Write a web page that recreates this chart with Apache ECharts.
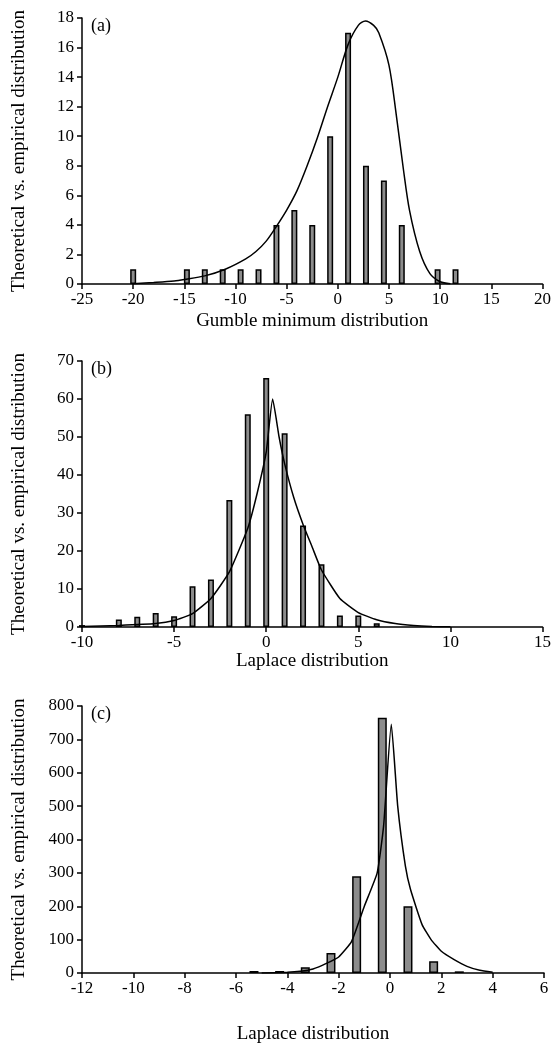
<!DOCTYPE html>
<html>
<head>
<meta charset="utf-8">
<script src="https://cdn.jsdelivr.net/npm/echarts@6/dist/echarts.min.js"></script>
<style>
  html, body { margin: 0; padding: 0; background: #fff; }
  #chart { width: 554px; height: 1045px; }
</style>
</head>
<body>
<div id="chart"></div>
<script>
// panel (a): Gumble minimum
const aBarX = [-20, -14.75, -13, -11.25, -9.5, -7.75, -6, -4.25, -2.5, -0.75, 1, 2.75, 4.5, 6.25, 9.75, 11.5];
const aBarY = [1, 1, 1, 1, 1, 1, 4, 5, 4, 10, 17, 8, 7, 4, 1, 1];
const aCurveX = [-20, -18, -16, -15, -13, -11, -9, -8, -7, -6, -5, -4, -3, -2, -1, 0, 1, 2, 2.7, 3.5, 4, 5, 5.7, 6.4, 7, 8, 9, 10, 11];
const aCurveY = [0.02, 0.1, 0.2, 0.3, 0.55, 1.0, 1.7, 2.2, 2.9, 3.9, 5.0, 6.3, 8.0, 9.9, 12.0, 14.0, 16.2, 17.5, 17.8, 17.5, 17.0, 14.8, 11.5, 7.8, 5.0, 2.2, 0.7, 0.15, 0.02];

// panel (b): Laplace
const bBarX = [-10, -8, -7, -6, -5, -4, -3, -2, -1, 0, 1, 2, 3, 4, 5, 6];
const bBarY = [0.5, 2, 2.7, 3.7, 2.8, 10.7, 12.5, 33.4, 56, 65.5, 51, 26.7, 16.5, 3, 3, 1];
const bCurveX = [-10, -8, -6, -5, -4, -3, -2, -1, -0.5, 0, 0.35, 0.7, 1, 1.5, 2, 2.5, 3, 4, 5, 6, 7, 8, 9, 10];
const bCurveY = [0.1, 0.4, 0.9, 1.7, 3.5, 7.5, 14.5, 26, 35, 46, 60, 50, 43, 34, 27, 21, 15, 7.5, 3.8, 1.9, 0.9, 0.4, 0.15, 0.05];

// panel (c): Laplace
const cBarX = [-5.3, -4.3, -3.3, -2.3, -1.3, -0.3, 0.7, 1.7, 2.7];
const cBarY = [6, 6, 17, 60, 290, 765, 200, 35, 5];
const cCurveX = [-5, -4, -3.5, -3, -2.5, -2, -1.5, -1, -0.5, -0.25, 0.05, 0.3, 0.6, 0.8, 1.25, 1.6, 2, 2.5, 3, 3.5, 4];
const cCurveY = [0, 2, 5, 12, 28, 48, 94, 200, 300, 440, 745, 500, 320, 250, 145, 100, 65, 40, 20, 8, 2];

const yTitle = 'Theoretical vs. empirical distribution';
const xTitles = ['Gumble minimum distribution', 'Laplace distribution', 'Laplace distribution'];
const panelTags = ['(a)', '(b)', '(c)'];

document.addEventListener('DOMContentLoaded', function() {
    const chart = echarts.init(document.getElementById('chart'));
    const font = 'Liberation Serif, Times New Roman, serif';

    const zip = (xs, ys) => xs.map((x, i) => [x, ys[i]]);

    const grids = [
        { left: 82, right: 10, top: 18, height: 266 },
        { left: 82, right: 10, top: 361, height: 266 },
        { left: 82, right: 10, top: 706, height: 269 }
    ];
    const xRanges = [[-25, 20, 5], [-10, 15, 5], [-12, 6, 2]];
    const yRanges = [[0, 18, 2], [0, 70, 10], [0, 800, 100]];
    const nameGaps = [28, 21, 52];
    const barWidths = [6, 6, 9];
    const smoothness = [0.3, 0.15, 0.15];

    const axisCommon = {
        axisLine: { show: true, onZero: false, lineStyle: { color: '#000', width: 1.5 } },
        axisTick: { show: true, inside: false, length: 5, lineStyle: { color: '#000', width: 1.5 } },
        axisLabel: { color: '#000', fontFamily: font, fontSize: 17 },
        splitLine: { show: false },
        nameTextStyle: { color: '#000', fontFamily: font, fontSize: 19 }
    };

    const xAxes = xRanges.map((r, i) => Object.assign({}, axisCommon, {
        type: 'value', gridIndex: i, min: r[0], max: r[1], interval: r[2],
        name: xTitles[i], nameLocation: 'middle', nameGap: nameGaps[i],
        axisLabel: Object.assign({}, axisCommon.axisLabel, { margin: 7 })
    }));
    const yAxes = yRanges.map((r, i) => Object.assign({}, axisCommon, {
        type: 'value', gridIndex: i, min: r[0], max: r[1], interval: r[2],
        name: yTitle, nameLocation: 'middle', nameGap: 53,
        axisLabel: Object.assign({}, axisCommon.axisLabel, { margin: 8 })
    }));

    const bars = [zip(aBarX, aBarY), zip(bBarX, bBarY), zip(cBarX, cBarY)];
    const curves = [zip(aCurveX, aCurveY), zip(bCurveX, bCurveY), zip(cCurveX, cCurveY)];

    const series = [];
    bars.forEach((d, i) => {
        series.push({
            type: 'bar', xAxisIndex: i, yAxisIndex: i, data: d,
            barWidth: barWidths[i], silent: true,
            itemStyle: { color: '#8c8c8c', borderColor: '#000', borderWidth: 1.5 }
        });
        series.push({
            type: 'line', xAxisIndex: i, yAxisIndex: i, data: curves[i],
            smooth: smoothness[i], showSymbol: false, silent: true, z: 5,
            lineStyle: { color: '#000', width: 1.5 }
        });
    });

    const option = {
        animation: false,
        backgroundColor: '#fff',
        title: panelTags.map((t, i) => ({
            text: t, left: 86, top: grids[i].top - 6,
            textStyle: { fontFamily: font, fontSize: 18, fontWeight: 'normal', color: '#000' }
        })),
        grid: grids,
        xAxis: xAxes,
        yAxis: yAxes,
        series: series
    };

    chart.setOption(option);

    window.addEventListener('resize', function() {
        chart.resize();
    });
});
</script>
</body>
</html>
